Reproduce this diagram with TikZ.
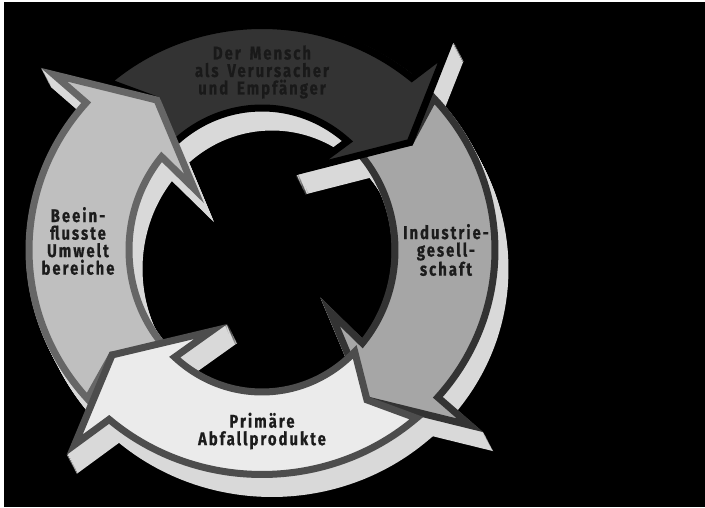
\documentclass[tikz,border=0pt]{standalone}
\usepackage{fontspec}
\newfontfamily\ringfont{Fira Sans}[FakeStretch=0.8,LetterSpace=11,FakeBold=0.6,WordSpace=1.6]
\definecolor{ringside}{HTML}{D9D9D9}
\definecolor{darkface}{HTML}{333333}
\definecolor{greyface}{HTML}{A6A6A6}
\definecolor{greyedge}{HTML}{333333}
\definecolor{paleface}{HTML}{EBEBEB}
\definecolor{paleedge}{HTML}{4D4D4D}
\definecolor{leftface}{HTML}{BFBFBF}
\definecolor{leftedge}{HTML}{666666}
\definecolor{labeltext}{HTML}{1C1C1C}

% one arrow of the ring: tail behind angle #1, tip at angle #2
\newcommand{\ringpath}[2]{%
  ({233*cos(#1+6.5)},{224.5*sin(#1+6.5)})
  arc[start angle=#1+6.5, end angle=#2+14, x radius=233, y radius=224.5]
  -- ({280*cos(#2+13)},{262*sin(#2+13)})
  -- ({183*cos(#2)},{183*sin(#2)})
  -- ({85*cos(#2+18)},{102*sin(#2+18)})
  -- ({133*cos(#2+14)},{142*sin(#2+14)})
  arc[start angle=#2+14, end angle=#1+9.2, x radius=133, y radius=142]
  -- ({183*cos(#1)},{183*sin(#1)}) -- cycle}

\begin{document}
\begin{tikzpicture}[x=1pt,y=1pt,
    ring_arrow/.style={line width=7pt,line join=miter},
    ring_side/.style={fill=ringside,draw=ringside,line width=7pt},
    ring_label/.style={align=center,text=labeltext,inner sep=0pt,
      font=\ringfont\bfseries\fontsize{18.5}{17.5}\selectfont}]

\useasboundingbox (0,0) rectangle (705,508);
\fill[white] (0,0) rectangle (705,508);
\fill[black] (4,1) rectangle (705,506);

\begin{scope}[shift={(262,258)}]
  % side walls
  \foreach \prev/\tip in {215/125,125/36,36/-55,-55/-145}
    \foreach \k in {1,...,20}
      \filldraw[ring_side,shift={(0.5*\k,-0.95*\k)}] \ringpath{\prev}{\tip};

  % faces
  \filldraw[ring_arrow,fill=greyface,draw=greyedge] \ringpath{36}{-55};
  \filldraw[ring_arrow,fill=darkface,draw=black] \ringpath{125}{36};
  \filldraw[ring_arrow,fill=leftface,draw=leftedge] \ringpath{215}{125};
  \filldraw[ring_arrow,fill=paleface,draw=paleedge] \ringpath{-55}{-145};
\end{scope}

\node[ring_label,text=black!90] (mensch) at (262,436) {Der Mensch\\als Verursacher\\und Empfänger};
\node[ring_label] (industrie) at (446,258) {Industrie-\\gesell-\\schaft};
\node[ring_label] (abfall) at (262,77) {Primäre\\Abfallprodukte};
\node[ring_label] (umwelt) at (78,267) {Beein-\\flusste\\Umwelt\\bereiche};
\end{tikzpicture}
\end{document}
